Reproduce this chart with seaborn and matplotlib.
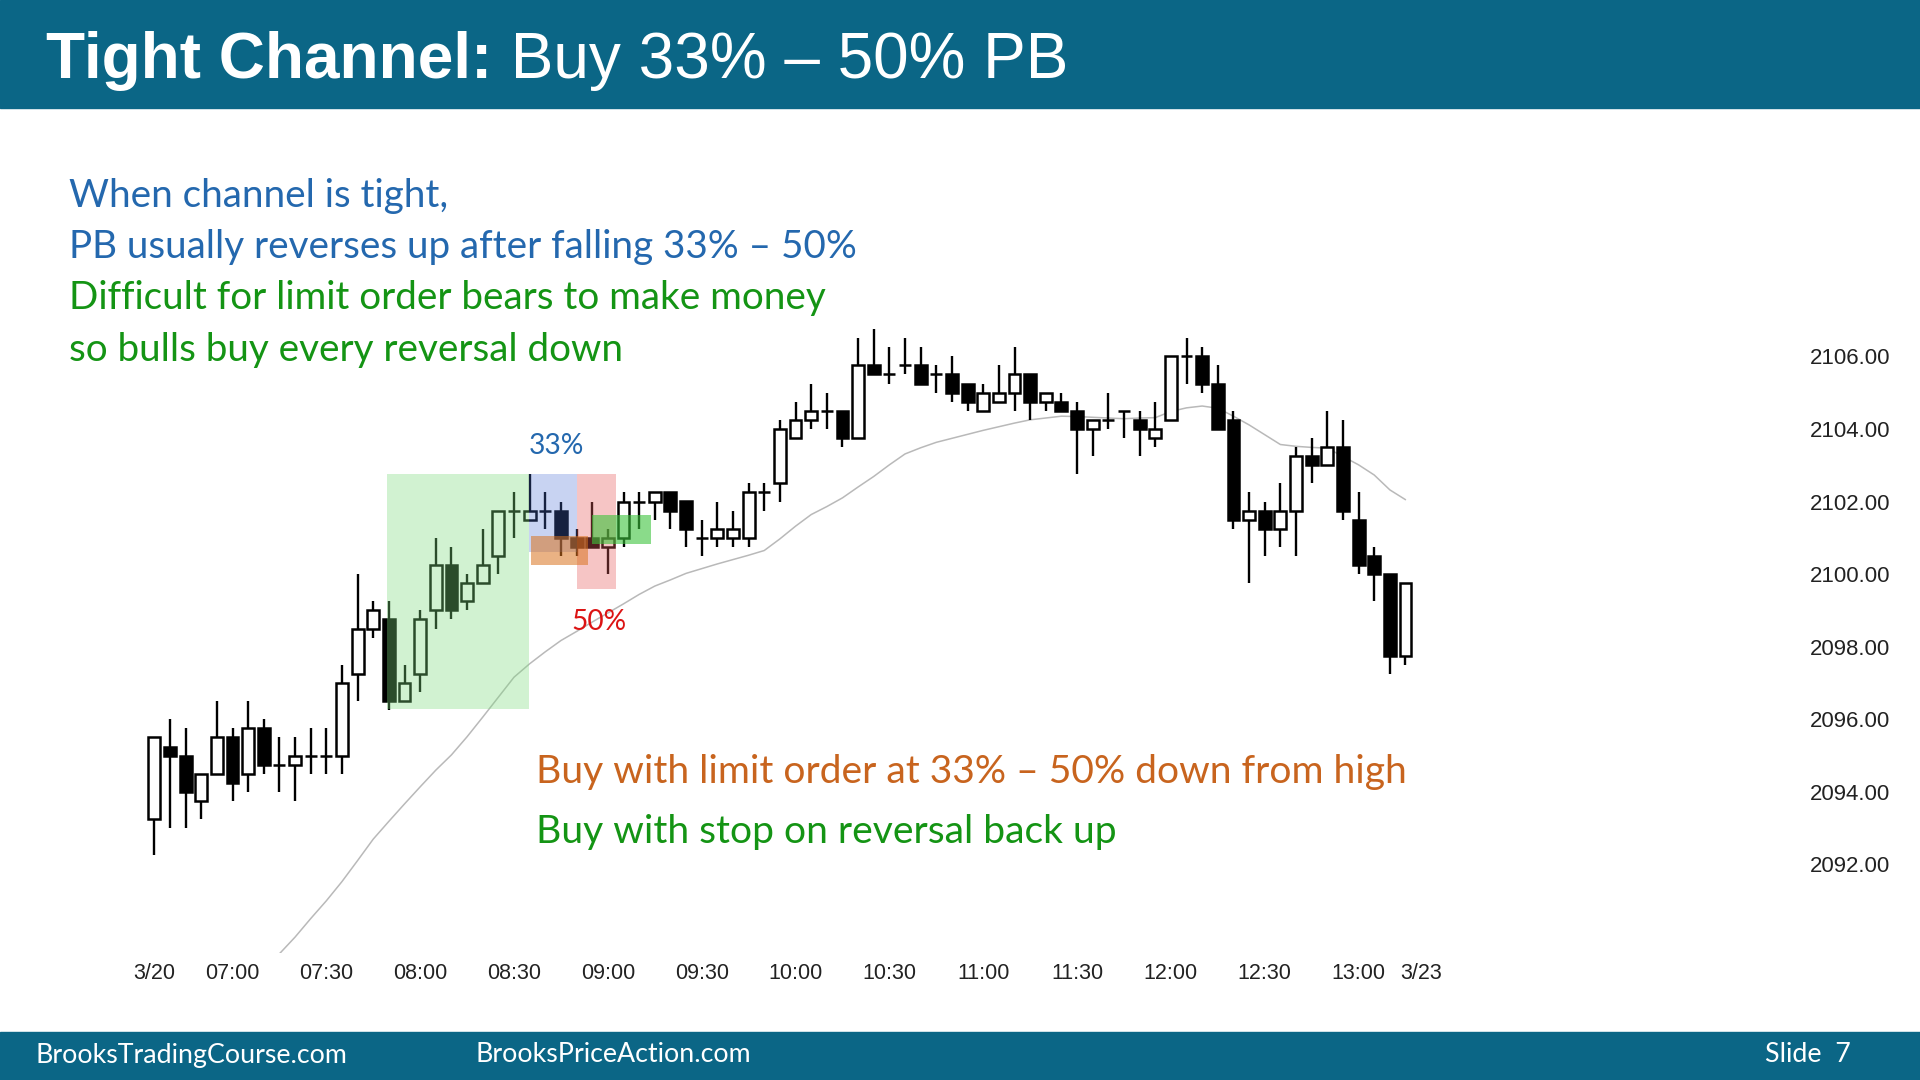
import numpy as np
import pandas as pd
import matplotlib
matplotlib.use("Agg")
import matplotlib.pyplot as plt
from matplotlib.patches import Rectangle
import seaborn as sns

# ---------------- data ----------------
opens = [2093.25, 2095.25, 2095.0, 2093.75, 2094.5, 2095.5, 2094.5, 2095.75, 2094.75, 2094.75,
         2095.0, 2095.0, 2095.0, 2097.25, 2098.5, 2098.75, 2096.5, 2097.25, 2099.0, 2100.25,
         2099.25, 2099.75, 2100.5, 2101.75, 2101.5, 2101.75, 2101.75, 2101.0, 2101.0, 2100.75,
         2101.0, 2102.0, 2102.0, 2102.25, 2102.0, 2101.0, 2101.0, 2101.0, 2101.0, 2102.25,
         2102.5, 2103.75, 2104.25, 2104.5, 2104.5, 2103.75, 2105.75, 2105.5, 2105.75, 2105.75,
         2105.5, 2105.5, 2105.25, 2104.5, 2104.75, 2105.0, 2105.5, 2104.75, 2104.75, 2104.5,
         2104.0, 2104.25, 2104.5, 2104.25, 2103.75, 2104.25, 2106.0, 2106.0, 2105.25, 2104.25,
         2101.5, 2101.75, 2101.25, 2101.75, 2103.25, 2103.0, 2103.5, 2101.5, 2100.5, 2100.0,
         2097.75]
highs = [2095.5, 2096.0, 2095.75, 2094.5, 2096.5, 2095.75, 2096.5, 2096.0, 2095.5, 2095.5,
         2095.75, 2095.75, 2097.5, 2100.0, 2099.25, 2099.25, 2097.5, 2099.0, 2101.0, 2100.75,
         2100.0, 2101.25, 2101.75, 2102.25, 2102.75, 2102.25, 2102.0, 2101.25, 2102.0, 2101.25,
         2102.25, 2102.25, 2102.25, 2102.25, 2102.0, 2101.5, 2102.0, 2101.75, 2102.5, 2102.5,
         2104.25, 2104.75, 2105.25, 2105.0, 2104.5, 2106.5, 2106.75, 2106.25, 2106.5, 2106.25,
         2105.75, 2106.0, 2105.25, 2105.25, 2105.75, 2106.25, 2105.5, 2105.0, 2105.0, 2104.75,
         2104.25, 2105.0, 2104.5, 2104.5, 2104.75, 2106.0, 2106.5, 2106.25, 2105.75, 2104.5,
         2102.25, 2102.0, 2102.5, 2103.5, 2103.75, 2104.5, 2104.25, 2102.25, 2100.75, 2100.0,
         2099.75]
lows = [2092.25, 2093.0, 2093.0, 2093.25, 2094.5, 2093.75, 2094.0, 2094.5, 2094.0, 2093.75,
        2094.5, 2094.5, 2094.5, 2096.5, 2098.25, 2096.25, 2096.5, 2096.75, 2098.5, 2098.75,
        2099.0, 2099.75, 2100.0, 2101.0, 2101.5, 2101.25, 2100.5, 2100.5, 2100.75, 2100.0,
        2100.75, 2101.25, 2101.5, 2101.25, 2100.75, 2100.5, 2100.75, 2100.75, 2100.75, 2101.75,
        2102.0, 2103.75, 2104.0, 2104.0, 2103.5, 2103.75, 2105.5, 2105.25, 2105.5, 2105.25,
        2105.0, 2104.75, 2104.5, 2104.5, 2104.75, 2104.5, 2104.25, 2104.5, 2104.5, 2102.75,
        2103.25, 2104.0, 2103.75, 2103.25, 2103.5, 2104.25, 2105.25, 2105.0, 2104.0, 2101.25,
        2099.75, 2100.5, 2100.75, 2100.5, 2102.5, 2103.0, 2101.5, 2100.0, 2099.25, 2097.25,
        2097.5]
closes = [2095.5, 2095.0, 2094.0, 2094.5, 2095.5, 2094.25, 2095.75, 2094.75, 2094.75, 2095.0,
          2095.0, 2095.0, 2097.0, 2098.5, 2099.0, 2096.5, 2097.0, 2098.75, 2100.25, 2099.0,
          2099.75, 2100.25, 2101.75, 2101.75, 2101.75, 2101.75, 2101.0, 2100.75, 2100.75, 2101.0,
          2102.0, 2102.0, 2102.25, 2101.75, 2101.25, 2101.0, 2101.25, 2101.25, 2102.25, 2102.25,
          2104.0, 2104.25, 2104.5, 2104.5, 2103.75, 2105.75, 2105.5, 2105.5, 2105.75, 2105.25,
          2105.5, 2105.0, 2104.75, 2105.0, 2105.0, 2105.5, 2104.75, 2105.0, 2104.5, 2104.0,
          2104.25, 2104.25, 2104.5, 2104.0, 2104.0, 2106.0, 2106.0, 2105.25, 2104.0, 2101.5,
          2101.75, 2101.25, 2101.75, 2103.25, 2103.0, 2103.5, 2101.75, 2100.25, 2100.0, 2097.75,
          2099.75]
ema20 = [np.nan] * 8 + [
    2089.54, 2090.00, 2090.51, 2091.00, 2091.53, 2092.11, 2092.70, 2093.19, 2093.67, 2094.14,
    2094.60, 2095.02, 2095.52, 2096.06, 2096.61, 2097.16, 2097.53, 2097.86, 2098.17, 2098.42,
    2098.68, 2098.93, 2099.18, 2099.44, 2099.67, 2099.84, 2100.02, 2100.15, 2100.28, 2100.40,
    2100.52, 2100.65, 2100.97, 2101.32, 2101.64, 2101.86, 2102.10, 2102.40, 2102.69, 2103.01,
    2103.31, 2103.48, 2103.63, 2103.74, 2103.85, 2103.96, 2104.06, 2104.16, 2104.25, 2104.30,
    2104.35, 2104.34, 2104.32, 2104.30, 2104.28, 2104.30, 2104.31, 2104.48, 2104.58, 2104.63,
    2104.57, 2104.35, 2104.11, 2103.84, 2103.57, 2103.52, 2103.49, 2103.47, 2103.24, 2103.01,
    2102.73, 2102.32, 2102.05]

tick_bars = [0, 5, 11, 17, 23, 29, 35, 41, 47, 53, 59, 65, 71, 77, 81]
tick_labels = ["3/20", "07:00", "07:30", "08:00", "08:30", "09:00", "09:30", "10:00",
               "10:30", "11:00", "11:30", "12:00", "12:30", "13:00", "3/23"]
price_ticks = [2092, 2094, 2096, 2098, 2100, 2102, 2104, 2106]

# highlight zones: (bar_start, bar_end, price_low, price_high)
zone_leg = (14.86, 23.96, 2096.28, 2102.76)
zone_33 = (23.96, 27.05, 2100.62, 2102.76)
zone_50 = (27.05, 29.50, 2099.58, 2102.76)
zone_limit = (24.08, 27.70, 2100.25, 2101.05)
zone_stop = (27.97, 31.74, 2100.84, 2101.62)

title_bold = "Tight Channel:"
title_rest = " Buy 33% \u2013 50% PB"
notes_blue = ["When channel is tight,", "PB usually reverses up after falling 33% \u2013 50%"]
notes_green = ["Difficult for limit order bears to make money", "so bulls buy every reversal down"]
note_limit = "Buy with limit order at 33% \u2013 50% down from high"
note_stop = "Buy with stop on reversal back up"
footer = ["BrooksTradingCourse.com", "BrooksPriceAction.com", "Slide  7"]

# ---------------- style ----------------
sns.set_theme(style="white")
plt.rcParams["font.family"] = ["Liberation Sans", "DejaVu Sans"]

W, H = 1920, 1080
fig = plt.figure(figsize=(19.2, 10.8), dpi=100)
fig.patch.set_facecolor("white")

BAND = "#0b6686"
BLUE = "#2468ae"
GREEN = "#149414"
ORANGE = "#c8641e"
RED = "#dc1414"

# bands
fig.add_artist(Rectangle((0, 1 - 108 / H), 1, 108 / H, transform=fig.transFigure,
                         color=BAND, zorder=0))
fig.add_artist(Rectangle((0, 0), 1, 48 / H, transform=fig.transFigure,
                         color=BAND, zorder=0))

# axes placement (pixel geometry)
s = 15.64
x0 = 154.3
xmin, xmax = -1, 105
ytop, ybot = 2107.5, 2089.57
ppp = 36.3
left_px = x0 + xmin * s
right_px = x0 + xmax * s
top_px = 356.3 - (ytop - 2106) * ppp
bot_px = 356.3 + (2106 - ybot) * ppp
ax = fig.add_axes([left_px / W, 1 - bot_px / H, (right_px - left_px) / W, (bot_px - top_px) / H])
ax.set_facecolor("none")
ax.set_xlim(xmin, xmax)
ax.set_ylim(ybot, ytop)
for sp in ax.spines.values():
    sp.set_visible(False)

df = pd.DataFrame({"bar": np.arange(len(opens)), "open": opens, "high": highs,
                   "low": lows, "close": closes, "ema": ema20})

# EMA
sns.lineplot(data=df, x="bar", y="ema", ax=ax, color="#b9b9b9", lw=1.1, zorder=1)

# wicks
ax.vlines(df["bar"], df["low"], df["high"], color="black", lw=1.7, zorder=2)
# bodies
bottoms = np.minimum(df["open"], df["close"])
heights = np.abs(df["close"] - df["open"])
colors = ["white" if c >= o else "black" for o, c in zip(opens, closes)]
ax.bar(df["bar"], heights, bottom=bottoms, width=0.76, color=colors,
       edgecolor="black", linewidth=1.8, zorder=3)

# zones (drawn over candles, translucent)
def zone(z, color, alpha):
    ax.add_patch(Rectangle((z[0], z[2]), z[1] - z[0], z[3] - z[2], facecolor=color,
                           edgecolor="none", alpha=alpha, zorder=4))

zone(zone_leg, "#7ddc7d", 0.35)
zone(zone_33, "#4a6fd6", 0.30)
zone(zone_50, "#e85a5a", 0.35)
zone(zone_limit, "#d9731f", 0.55)
zone(zone_stop, "#3cc43c", 0.60)

ax.set_xlabel("")
ax.set_ylabel("")
ax.set_xticks(tick_bars)
ax.set_xticklabels(tick_labels)
ax.set_yticks(price_ticks)
ax.set_yticklabels([f"{p:.2f}" for p in price_ticks])
ax.yaxis.tick_right()
ax.tick_params(axis="y", length=0, pad=9.5, labelsize=16, labelcolor="#222222")
ax.tick_params(axis="x", length=0, pad=7.5, labelsize=15.5, labelcolor="#222222")
ax.grid(False)

renderer = fig.canvas.get_renderer()

def fit(t, target):
    w = t.get_window_extent(renderer).width
    t.set_fontsize(t.get_fontsize() * target / w)

def px(x, y):
    return x / W, 1 - y / H

# title
tb = fig.text(*px(46.5, 78.4), title_bold, color="white", fontsize=46, fontweight="bold",
              va="baseline", ha="left")
wb = tb.get_window_extent(renderer).width
tr = fig.text(*px(46.5 + wb, 78.4), title_rest, color="white", fontsize=46,
              va="baseline", ha="left")

TXT = ["Lato", "DejaVu Sans"]
# notes top-left
lines = notes_blue + notes_green
cols = [BLUE, BLUE, GREEN, GREEN]
base = [206.5, 258.2, 309.5, 361]
texts = []
for ln, c, b in zip(lines, cols, base):
    texts.append(fig.text(*px(68.6, b), ln, color=c, fontsize=26, family=TXT,
                          va="baseline", ha="left"))
w2 = texts[1].get_window_extent(renderer).width
for t in texts:
    t.set_fontsize(26 * 786 / w2)

# percentage labels
t33 = fig.text(*px(556, 446.5), "33%", color=BLUE, fontsize=20, family=TXT, ha="center", va="center")
fit(t33, 55)
t50 = fig.text(*px(598.8, 621.5), "50%", color=RED, fontsize=20, family=TXT, ha="center", va="center")
fit(t50, 55)

# lower notes
tl = fig.text(*px(536.3, 782.5), note_limit, color=ORANGE, fontsize=26, family=TXT, va="baseline")
fit(tl, 869)
ts = fig.text(*px(536.3, 842.5), note_stop, color=GREEN, fontsize=tl.get_fontsize(), family=TXT,
              va="baseline")

# footer
f1 = fig.text(*px(35.5, 1055), footer[0], color="white", fontsize=18, family=TXT, va="center")
fit(f1, 311)
f2 = fig.text(*px(475, 1055), footer[1], color="white", fontsize=f1.get_fontsize(), family=TXT, va="center")
f3 = fig.text(*px(1851, 1055), footer[2], color="white", fontsize=f1.get_fontsize(), family=TXT,
              va="center", ha="right")

fig.savefig("out.png", dpi=100, facecolor="white")
